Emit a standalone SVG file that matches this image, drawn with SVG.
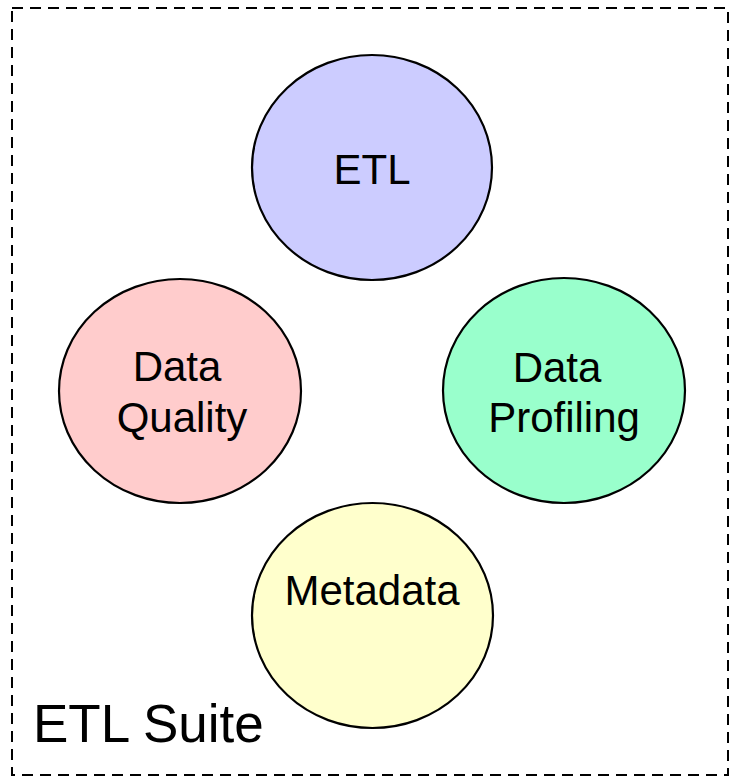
<svg xmlns="http://www.w3.org/2000/svg" width="732" height="778" viewBox="0 0 732 778">
<style>
.bg{fill:#ffffff}
.frame{fill:none;stroke:#000;stroke-width:2;stroke-dasharray:11 7}
.node ellipse{stroke:#000;stroke-width:2.2}
text{font-family:"Liberation Sans",Arial,sans-serif;fill:#000;text-anchor:middle}
.lbl{font-size:42px}
.title{font-size:53px;text-anchor:start}
</style>
<rect class="bg" x="0" y="0" width="732" height="778"/>
<g id="etl-suite">
<rect class="frame" x="12" y="8" width="716" height="767"/>
<text class="title" x="33" y="742">ETL Suite</text>
</g>
<g id="connectors"></g>
<g id="etl" class="node">
<ellipse cx="372" cy="167.5" rx="120" ry="112.5" fill="#CCCCFF"/>
<text class="lbl" x="372" y="184">ETL</text>
</g>
<g id="data-quality" class="node">
<ellipse cx="180" cy="391" rx="121" ry="112" fill="#FFCCCC"/>
<text class="lbl" x="177" y="381">Data</text>
<text class="lbl" x="182" y="432">Quality</text>
</g>
<g id="data-profiling" class="node">
<ellipse cx="564" cy="390.5" rx="121" ry="112.5" fill="#99FFCC"/>
<text class="lbl" x="557" y="382">Data</text>
<text class="lbl" x="564" y="432">Profiling</text>
</g>
<g id="metadata" class="node">
<ellipse cx="372.5" cy="615.5" rx="120.5" ry="112.5" fill="#FFFFCC"/>
<text class="lbl" x="372" y="605">Metadata</text>
</g>
</svg>
